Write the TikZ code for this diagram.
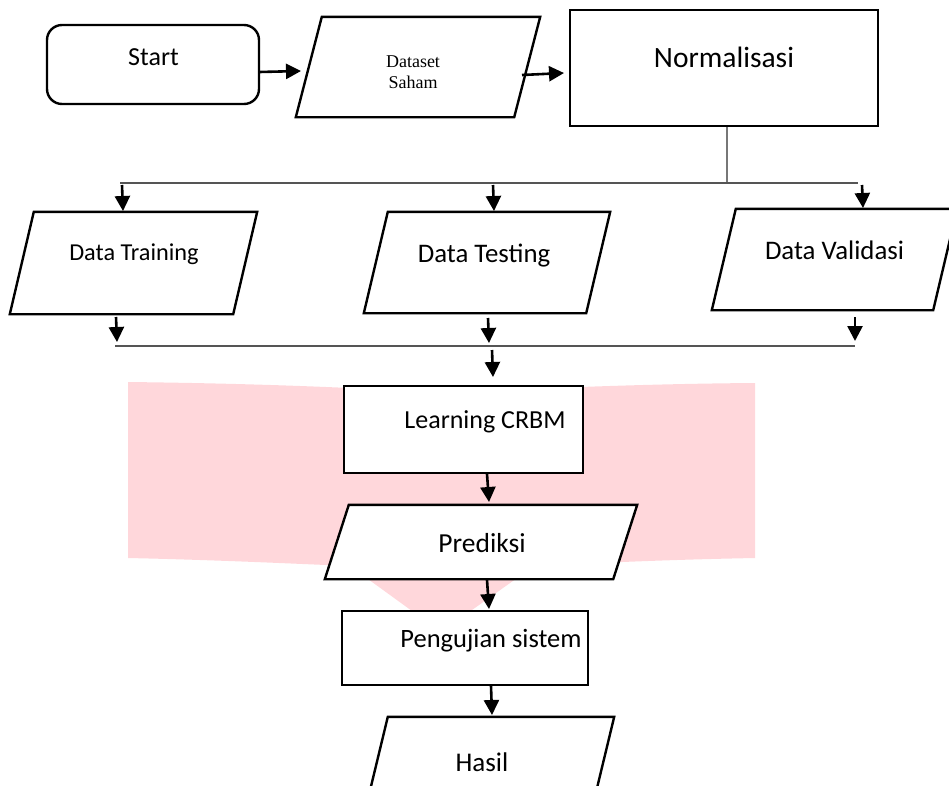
\documentclass[tikz,border=0pt]{standalone}
\usepackage{fontspec}
\setmainfont{Carlito}
\newfontfamily\timesf{Liberation Serif}
\usetikzlibrary{arrows.meta,calc}
\definecolor{wm}{HTML}{FFD7DB}
\definecolor{buscol}{HTML}{555555}
\begin{document}
\begin{tikzpicture}[x=1pt,y=-1pt,
  box/.style={draw, line width=2.4pt, fill=white, inner sep=0pt},
  iobox/.style={inner sep=0pt},
  shp/.style={line width=2.4pt, fill=white},
  txt/.style={inner sep=0pt, font=\fontsize{26}{31}\selectfont},
  arr/.style={line width=2.6pt, -{Triangle[length=15pt,width=15pt]}},
  bus/.style={draw=buscol, line width=2pt}]
\useasboundingbox (0,0) rectangle (949,785);
% watermark
\fill[wm] (128,382) .. controls (300,384) and (380,390) .. (441,392)
  .. controls (520,390) and (620,384) .. (755,383) -- (755,558)
  .. controls (650,560) and (580,564) .. (534,566) -- (441,632) -- (350,566)
  .. controls (300,564) and (220,560) .. (128,558) -- cycle;
% shapes
\node[box, rounded corners=15pt, minimum width=212pt, minimum height=79pt] (start) at (153,64.5) {};
\node[iobox, minimum width=244pt, minimum height=100pt] (dataset) at (418,67) {};
\draw[shp] ([xshift=26pt]dataset.north west) -- (dataset.north east) -- ([xshift=-26pt]dataset.south east) -- (dataset.south west) -- cycle;
\node[box, minimum width=308pt, minimum height=116pt] (norm) at (724,68) {};
\node[iobox, minimum width=247pt, minimum height=102pt] (train) at (133.5,263) {};
\draw[shp] ([xshift=24pt]train.north west) -- (train.north east) -- ([xshift=-24pt]train.south east) -- (train.south west) -- cycle;
\node[iobox, minimum width=246pt, minimum height=101pt] (test) at (487,262.5) {};
\draw[shp] ([xshift=24pt]test.north west) -- (test.north east) -- ([xshift=-24pt]test.south east) -- (test.south west) -- cycle;
\node[iobox, minimum width=245pt, minimum height=101pt] (valid) at (834.5,259.5) {};
\draw[shp] ([xshift=24pt]valid.north west) -- (valid.north east) -- ([xshift=-24pt]valid.south east) -- (valid.south west) -- cycle;
\node[box, minimum width=239pt, minimum height=87pt] (learn) at (463.5,429.5) {};
\node[iobox, minimum width=312pt, minimum height=74pt] (pred) at (481,542) {};
\draw[shp] ([xshift=24pt]pred.north west) -- (pred.north east) -- ([xshift=-24pt]pred.south east) -- (pred.south west) -- cycle;
\node[box, minimum width=246pt, minimum height=74pt] (uji) at (465,648) {};
\node[iobox, minimum width=243pt, minimum height=70pt] (hasil) at (492.5,752) {};
\draw[shp] ([xshift=17pt]hasil.north west) -- (hasil.north east) -- ([xshift=-17pt]hasil.south east) -- (hasil.south west) -- cycle;
% texts
\node[txt] (startT) at (153.5,57) {Start};
\node[inner sep=0pt, align=center, font=\timesf\fontsize{18}{21}\selectfont] (datasetT) at (413,72) {Dataset\\Saham};
\node[txt, font=\fontsize{29.5}{34}\selectfont] (normT) at (724,57) {Normalisasi};
\node[txt, font=\fontsize{24.3}{29}\selectfont] (trainT) at (134,254) {Data Training};
\node[txt, font=\fontsize{26.8}{31}\selectfont] (testT) at (484,256) {Data Testing};
\node[txt, font=\fontsize{26.8}{31}\selectfont] (validT) at (834.5,250) {Data Validasi};
\node[txt] (learnT) at (485,422) {Learning CRBM};
\node[txt, font=\fontsize{27.5}{32}\selectfont] (predT) at (482,543) {Prediksi};
\node[txt, font=\fontsize{26.5}{31}\selectfont] (ujiT) at (491,641) {Pengujian sistem};
\node[txt, font=\fontsize{27}{32}\selectfont] (hasilT) at (482,762) {Hasil};
% connector coordinates
\coordinate (a1s) at (259,72); \coordinate (a1e) at (301,71);
\coordinate (a2s) at (522,75); \coordinate (a2e) at (564,73);
\coordinate (nb) at (727,183);
\coordinate (b1l) at (120,183); \coordinate (b1r) at (858,183);
\coordinate (d1s) at (122,185); \coordinate (d1e) at (123,211);
\coordinate (d2s) at (493,185); \coordinate (d2e) at (494,211);
\coordinate (d3s) at (862,185); \coordinate (d3e) at (863,208);
\coordinate (u1s) at (116,317); \coordinate (u1e) at (117,342);
\coordinate (u2s) at (488,318); \coordinate (u2e) at (489,343);
\coordinate (u3s) at (855,317); \coordinate (u3e) at (855,341);
\coordinate (b2l) at (115,346); \coordinate (b2r) at (855,346);
\coordinate (m1s) at (492,350); \coordinate (m1e) at (493,377);
\coordinate (m2s) at (487,474); \coordinate (m2e) at (489,502);
\coordinate (m3s) at (487,580); \coordinate (m3e) at (489,609);
\coordinate (m4s) at (491,686); \coordinate (m4e) at (492,715);
% connectors
\draw[arr] (a1s) -- (a1e);
\draw[arr] (a2s) -- (a2e);
\draw[bus, draw=buscol!80] (norm.south -| nb) -- (nb);
\draw[bus] (b1l) -- (b1r);
\draw[arr] (d1s) -- (d1e);
\draw[arr] (d2s) -- (d2e);
\draw[arr] (d3s) -- (d3e);
\draw[arr] (u1s) -- (u1e);
\draw[arr] (u2s) -- (u2e);
\draw[arr] (u3s) -- (u3e);
\draw[bus] (b2l) -- (b2r);
\draw[arr] (m1s) -- (m1e);
\draw[arr] (m2s) -- (m2e);
\draw[arr] (m3s) -- (m3e);
\draw[arr] (m4s) -- (m4e);
\end{tikzpicture}
\end{document}
